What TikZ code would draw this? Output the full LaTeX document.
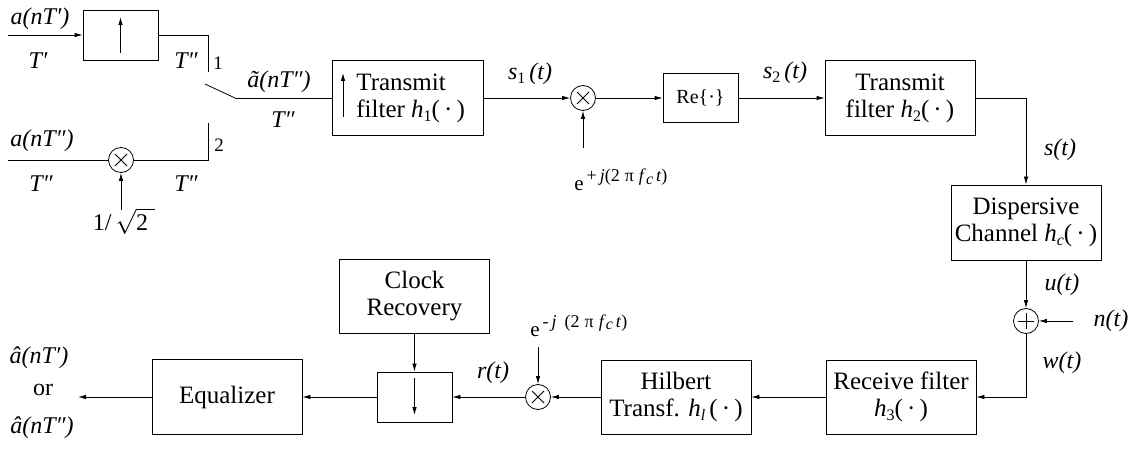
\documentclass[tikz,border=0pt]{standalone}
\usepackage{fontspec}
\setmainfont{Liberation Serif}
\usetikzlibrary{arrows.meta}
% lowered small index, e.g. the 1 of h_1
\newcommand\lowr[1]{\raisebox{-0.35ex}{\fontsize{16}{16}\selectfont #1}}
\newcommand\ital[1]{\textit{#1}}
\newcommand\dotarg{(\,·\,)}
\begin{document}
\begin{tikzpicture}[x=1pt, y=-1pt, line width=0.8pt,
  >={Latex[length=8pt,width=4.5pt]},
  blk/.style={draw, inner sep=0pt, align=center, minimum width=150pt,
    minimum height=75pt, font=\fontsize{25}{27}\selectfont},
  small blk/.style={blk, minimum width=75pt, minimum height=50pt},
  btext/.style={inner sep=0pt, align=left, font=\fontsize{25}{27}\selectfont},
  lbl/.style={inner sep=0pt, font=\fontsize{24}{26}\selectfont\itshape},
  num/.style={inner sep=0pt, font=\fontsize{19}{21}\selectfont},
  expo/.style={inner sep=0pt, font=\fontsize{21}{23}\selectfont},
  mixer/.style={draw, circle, minimum size=25pt, inner sep=0pt,
    path picture={
      \draw ([shift={(-6pt,-6pt)}]path picture bounding box.center) --
            ([shift={(6pt,6pt)}]path picture bounding box.center);
      \draw ([shift={(-6pt,6pt)}]path picture bounding box.center) --
            ([shift={(6pt,-6pt)}]path picture bounding box.center);}},
  adder/.style={draw, circle, minimum size=25pt, inner sep=0pt,
    path picture={
      \draw ([xshift=-8pt]path picture bounding box.center) --
            ([xshift=8pt]path picture bounding box.center);
      \draw ([yshift=-8pt]path picture bounding box.center) --
            ([yshift=8pt]path picture bounding box.center);}}]
\useasboundingbox (0,0) rectangle (1135,449);

% ---------- input section: upsampler, scaling branch and switch ----------
\node[small blk] (ups) at (120.5,35) {};
\draw[->] ([yshift=-18pt]ups.center) -- ([yshift=18pt]ups.center);
\coordinate (in1) at (8,35);
\draw[->] (in1) -- (ups.west);
\coordinate (c1) at (208,72);
\draw (ups.east) -| (c1);

\node[mixer] (m0) at (121,160) {};
\coordinate (in2) at (8,160);
\draw (in2) -- (m0.west);
\coordinate (c2) at (208,123);
\draw (c2) |- (m0.east);
\coordinate (sq) at (121,210);
\draw[->] (sq) -- (m0.south);

\coordinate (sw) at (235,98);
\coordinate (arm) at (205,84);
\draw (sw) -- (arm);

\node[lbl] (la1) at (40,19) {a(nT′)};
\node[lbl] (lt1) at (38,61) {T′};
\node[lbl] (lt2) at (186,61) {T″};
\node[num] (n1) at (218,63) {1};
\node[lbl] (la2) at (42,141) {a(nT″)};
\node[num] (n2) at (219,145) {2};
\node[lbl] (lt3) at (41,184) {T″};
\node[lbl] (lt4) at (186,184) {T″};
\node[inner sep=0pt, font=\fontsize{24}{26}\selectfont] (lsq) at (124,221) {1/\,$\sqrt{\mbox{2}\;}$};
\node[lbl] (la3) at (279,82) {ã(nT″)};
\node[lbl] (lt5) at (283,120) {T″};

% ---------- transmitter ----------
\node[blk, minimum width=151pt] (h1) at (407.5,98) {};
\node[btext, anchor=west] (h1t) at (356,98) {Transmit\\filter \ital{h}\lowr{1}\dotarg};
\draw[->] ([shift={(-64.5pt,-19pt)}]h1.center) -- ([shift={(-64.5pt,25pt)}]h1.center);
\draw (sw) -- (h1.west);

\node[mixer] (m1) at (583,98) {};
\draw[->] (h1.east) -- (m1.west);
\coordinate (src1) at (583,148);
\draw[->] (src1) -- (m1.south);
\node[lbl] (ls1) at (530,74) {s\lowr{\upshape 1}\,(t)};
\node[expo, anchor=base west] (le1) at (574,191)
  {e\raisebox{9pt}{\fontsize{18}{18}\selectfont\,+\,\ital{j}(2\;π\;\ital{f}\lowr{\ital{c}}\,\ital{t})}};

\node[blk, small blk, minimum height=49pt, font=\fontsize{20}{22}\selectfont] (re) at (700.5,98) {Re\{·\}};
\draw[->] (m1.east) -- (re.west);

\node[blk] (h2) at (900,98) {Transmit\\filter \ital{h}\lowr{2}\dotarg};
\draw[->] (re.east) -- (h2.west);
\node[lbl] (ls2) at (785,73) {s\lowr{\upshape 2}\,(t)};

% ---------- channel ----------
\node[blk] (dc) at (1026,222.5) {Dispersive\\Channel \ital{h}\lowr{\ital{c}}\dotarg};
\draw[->] (h2.east) -| (dc.north);
\node[lbl] (lst) at (1060,150) {s(t)};

\node[adder] (ad) at (1026,321) {};
\draw[->] (dc.south) -- (ad.north);
\node[lbl] (lu) at (1062,285) {u(t)};
\coordinate (nsrc) at (1073,321);
\draw[->] (nsrc) -- (ad.east);
\node[lbl] (ln) at (1111,321) {n(t)};
\node[lbl] (lw) at (1062,363) {w(t)};

% ---------- receiver ----------
\node[blk, minimum height=74pt] (rx) at (901,397) {Receive filter\\\ital{h}\lowr{3}\dotarg};
\draw[->] (ad.south) |- (rx.east);

\node[blk, minimum height=74pt] (hb) at (676,397) {Hilbert\\Transf. \ital{h}\lowr{\ital{l}}\,\dotarg};
\draw[->] (rx.west) -- (hb.east);

\node[mixer] (m2) at (538,397) {};
\draw[->] (hb.west) -- (m2.east);
\coordinate (src2) at (538,347);
\draw[->] (src2) -- (m2.north);
\node[expo, anchor=base west] (le2) at (530,336)
  {e\raisebox{9pt}{\fontsize{18}{18}\selectfont\,-\,\ital{j}\;\,(2\;π\;\ital{f}\lowr{\ital{c}}\,\ital{t})}};
\node[lbl] (lr) at (493,373) {r(t)};

\node[small blk] (ds) at (414.5,397) {};
\draw[->] ([yshift=19pt]ds.center) -- ([yshift=-18pt]ds.center);
\draw[->] (m2.west) -- (ds.east);

\node[blk, minimum height=74pt] (ck) at (414.5,296) {Clock\\Recovery};
\draw[->] (ck.south) -- (ds.north);

\node[blk] (eq) at (227,397) {Equalizer};
\draw[->] (ds.west) -- (eq.east);
\coordinate (out) at (78,397);
\draw[->] (eq.west) -- (out);

\node[lbl] (lo1) at (39,358) {â(nT′)};
\node[inner sep=0pt, font=\fontsize{24}{26}\selectfont] (lor) at (43,390) {or};
\node[lbl] (lo2) at (42,428) {â(nT″)};
\end{tikzpicture}
\end{document}
